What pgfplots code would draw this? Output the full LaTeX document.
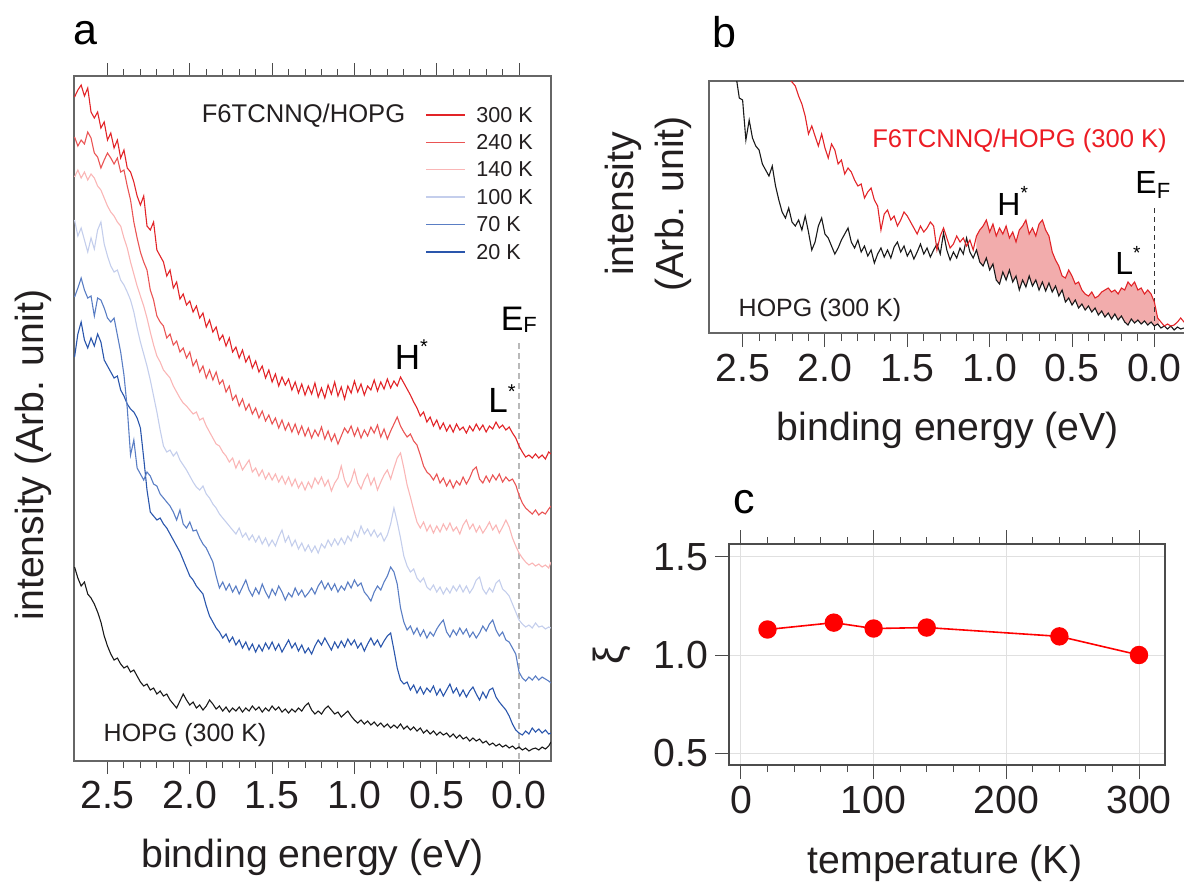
\documentclass[border=0pt]{standalone}
\usepackage{fontspec}
\setmainfont{Liberation Sans}
\usepackage{pgfplots}
\pgfplotsset{compat=1.18}
\usepackage{pgfplotstable}

\definecolor{c300}{RGB}{226,36,40}
\definecolor{c240}{RGB}{234,84,84}
\definecolor{c140}{RGB}{250,182,182}
\definecolor{c100}{RGB}{196,206,236}
\definecolor{c70}{RGB}{90,126,196}
\definecolor{c20}{RGB}{42,86,172}
\definecolor{hopg}{RGB}{25,25,25}
\definecolor{fillpink}{RGB}{242,172,172}
\definecolor{txt}{RGB}{35,31,32}
\definecolor{redtxt}{RGB}{236,28,36}

\newcommand{\fs}[2]{\fontsize{#1}{#2}\selectfont}

\pgfplotstableread{
E c300 c240 c140 c100 c70 c20 hopg
2.70 97 137 177 220 297 357 567
2.68 90 146 170 236 288 334 578
2.66 85 140 178 228 278 322 586
2.64 96 144 172 240 290 340 582
2.62 88 132 180 252 298 348 594
2.60 112 138 174 238 296 338 598
2.58 118 153 178 249 316 346 604
2.56 112 157 186 230 298 334 612
2.54 128 168 190 222 300 342 622
2.52 122 160 198 244 308 360 636
2.50 140 153 206 256 318 366 646
2.48 133 158 212 266 322 372 654
2.46 148 164 216 272 318 378 660
2.44 140 158 222 270 335 376 658
2.42 158 172 226 280 352 390 664
2.40 150 170 238 285 375 396 668
2.38 168 186 248 292 408 404 666
2.36 172 200 262 300 455 409 672
2.34 182 222 274 312 440 412 670
2.32 196 238 286 328 468 418 676
2.30 205 252 296 342 474 428 682
2.28 196 262 306 354 480 458 686
2.26 226 270 318 366 472 490 684
2.24 230 290 332 380 476 512 690
2.22 222 300 345 396 484 516 688
2.20 250 316 356 412 486 520 694
2.18 256 322 362 430 494 518 691
2.16 262 326 370 446 498 524 696
2.14 276 338 374 452 502 528 694
2.12 270 334 378 450 506 534 700
2.10 288 345 386 456 512 540 704
2.08 282 341 392 452 520 546 708
2.06 299 352 398 460 510 552 701
2.04 294 348 403 465 524 560 694
2.02 305 358 406 470 528 568 700
2.00 301 352 410 476 522 576 705
1.98 312 366 414 482 531 580 702
1.96 306 360 412 487 530 586 708
1.94 318 372 420 490 538 590 705
1.92 313 366 418 486 544 594 710
1.90 327 378 426 494 548 606 706
1.88 320 370 432 498 555 616 700
1.86 332 380 438 504 562 622 704
1.84 327 372 444 508 576 628 709
1.82 340 384 446 514 588 632 706
1.80 335 380 452 518 582 638 711
1.78 346 392 456 522 590 634 707
1.76 338 386 462 526 584 642 712
1.74 352 400 458 530 592 637 708
1.72 347 395 468 534 586 645 711
1.70 358 406 461 528 594 640 707
1.68 350 399 470 537 587 648 712
1.66 362 410 465 533 580 642 708
1.64 356 404 460 540 590 650 711
1.62 368 414 472 535 596 644 706
1.60 361 408 468 542 588 652 710
1.58 372 418 476 536 594 645 707
1.56 366 411 470 544 584 651 712
1.54 378 421 479 538 592 643 708
1.52 370 415 473 546 598 649 711
1.50 382 424 480 540 589 642 706
1.48 374 418 474 546 595 650 710
1.46 386 428 482 537 586 644 707
1.44 377 420 476 530 592 652 712
1.42 385 430 484 542 600 646 709
1.40 379 423 477 536 593 640 713
1.38 390 432 486 546 597 648 709
1.36 382 424 479 540 588 643 712
1.34 393 434 488 549 595 651 708
1.32 384 426 482 543 590 645 711
1.30 395 436 490 551 597 653 706
1.28 386 428 482 545 593 648 703
1.26 394 438 488 552 588 654 710
1.24 383 430 478 546 594 646 714
1.22 397 436 484 553 586 640 711
1.20 388 427 477 544 581 645 714
1.18 398 439 486 548 589 638 709
1.16 385 431 480 540 583 644 706
1.14 394 441 491 546 590 650 710
1.12 382 434 483 539 584 642 714
1.10 396 444 478 545 592 648 712
1.08 387 436 466 538 586 641 717
1.06 399 428 480 544 590 647 714
1.04 386 433 487 536 582 639 711
1.02 393 426 481 541 588 645 716
1.00 381 436 470 531 580 640 720
0.98 392 428 483 537 586 648 723
0.96 384 438 489 526 583 643 720
0.94 395 430 480 534 592 651 724
0.92 386 436 474 529 596 644 721
0.90 390 427 485 536 601 638 725
0.88 380 433 478 530 592 645 722
0.86 391 425 490 537 586 640 726
0.84 382 437 482 533 590 647 723
0.82 389 429 475 541 582 641 727
0.80 379 439 470 535 576 636 724
0.78 388 431 479 524 567 633 728
0.76 381 424 468 508 572 650 725
0.74 386 417 458 522 584 668 728
0.72 377 426 453 538 608 680 724
0.70 383 432 468 556 622 684 729
0.68 389 437 485 566 630 682 726
0.66 395 434 497 572 626 690 730
0.64 402 441 510 569 634 685 727
0.62 408 445 522 578 628 693 731
0.60 416 455 528 582 636 687 728
0.58 412 466 522 578 630 694 733
0.56 422 472 531 587 638 688 730
0.54 417 475 525 590 632 692 734
0.52 426 480 533 585 636 686 731
0.50 420 474 526 592 629 695 735
0.48 429 483 532 587 624 689 732
0.46 423 478 524 594 620 696 735
0.44 431 486 530 588 632 690 733
0.42 425 480 523 593 637 684 737
0.40 432 488 531 586 630 693 734
0.38 424 481 527 591 635 688 738
0.36 430 485 534 585 628 696 735
0.34 427 477 525 592 634 690 739
0.32 433 484 520 586 629 697 737
0.30 426 478 529 593 637 691 741
0.28 431 470 524 588 632 687 738
0.26 424 467 532 580 638 694 741
0.24 430 479 526 577 633 700 739
0.22 425 483 533 589 626 692 743
0.20 432 476 528 594 631 698 741
0.18 426 482 522 588 624 690 745
0.16 429 475 530 592 620 688 743
0.14 422 480 525 583 630 697 746
0.12 428 474 533 580 636 702 744
0.10 425 482 527 589 632 706 747
0.08 430 477 520 592 640 710 745
0.06 427 481 527 596 642 716 748
0.04 433 479 538 604 648 724 746
0.02 438 485 546 612 654 730 749
0.00 446 495 553 620 672 733 747
-0.02 452 503 558 624 678 735 750
-0.04 457 508 562 627 681 731 748
-0.06 455 511 565 625 677 734 751
-0.08 458 514 563 628 680 728 749
-0.10 454 510 566 623 676 732 748
-0.12 458 515 564 627 680 729 750
-0.14 455 512 567 626 677 733 747
-0.16 459 514 565 629 679 730 749
-0.18 452 509 568 627 681 734 746
-0.194 454 506 562 628 683 733 742
}\dataA

\pgfplotstableread{
E red hopg
2.56 10 60
2.54 14 76
2.52 18 98
2.50 20 100
2.48 24 140
2.46 28 120
2.44 32 138
2.42 36 146
2.40 40 150
2.38 44 164
2.36 48 170
2.34 52 176
2.32 56 166
2.30 60 186
2.28 64 200
2.26 70 212
2.24 74 218
2.22 78 208
2.20 82 222
2.18 86 226
2.16 96 220
2.14 104 230
2.12 116 216
2.10 134 232
2.08 126 250
2.06 136 242
2.04 146 226
2.02 134 218
2.00 148 234
1.98 158 238
1.96 144 246
1.94 150 254
1.92 164 248
1.90 160 240
1.88 174 234
1.86 168 228
1.84 172 242
1.82 180 248
1.80 186 240
1.78 184 252
1.76 198 246
1.74 192 256
1.72 188 250
1.70 200 263
1.68 206 254
1.66 230 248
1.64 214 257
1.62 210 250
1.60 220 258
1.58 216 247
1.56 226 242
1.54 220 252
1.52 212 246
1.50 216 256
1.48 222 250
1.46 228 259
1.44 234 252
1.42 226 244
1.40 232 254
1.38 228 248
1.36 222 257
1.34 226 250
1.32 250 244
1.30 236 254
1.28 228 233
1.26 238 250
1.24 248 260
1.22 244 252
1.20 236 258
1.18 242 248
1.16 238 254
1.14 246 238
1.12 240 252
1.10 250 258
1.08 236 250
1.06 230 262
1.04 226 266
1.02 220 258
1.00 232 270
0.98 224 264
0.96 236 280
0.94 228 284
0.92 234 272
0.90 226 280
0.88 238 270
0.86 232 282
0.84 242 276
0.82 230 290
0.80 226 280
0.78 220 287
0.76 234 276
0.74 228 286
0.72 236 280
0.70 224 290
0.68 220 282
0.66 230 291
0.64 236 283
0.62 252 292
0.60 260 286
0.58 266 296
0.56 276 290
0.54 278 302
0.52 270 298
0.50 276 305
0.48 284 300
0.46 282 308
0.44 290 304
0.42 294 310
0.40 296 306
0.38 292 312
0.36 298 308
0.34 296 315
0.32 292 311
0.30 290 317
0.28 288 313
0.26 292 319
0.24 290 314
0.22 294 320
0.20 288 316
0.18 290 322
0.16 282 325
0.14 286 319
0.12 282 323
0.10 290 320
0.08 288 324
0.06 294 321
0.04 290 325
0.02 294 322
0.00 302 326
-0.02 318 324
-0.04 322 328
-0.06 326 326
-0.08 324 329
-0.10 326 326
-0.12 325 330
-0.14 322 327
-0.16 318 329
-0.18 322 328
-0.194 324 330
}\dataB

% shaded area between F6TCNNQ/HOPG and HOPG (red edge, then HOPG edge back)
\pgfplotstableread{
E y
1.08 236
1.06 230
1.04 226
1.02 220
1.00 232
0.98 224
0.96 236
0.94 228
0.92 234
0.90 226
0.88 238
0.86 232
0.84 242
0.82 230
0.80 226
0.78 220
0.76 234
0.74 228
0.72 236
0.70 224
0.68 220
0.66 230
0.64 236
0.62 252
0.60 260
0.58 266
0.56 276
0.54 278
0.52 270
0.50 276
0.48 284
0.46 282
0.44 290
0.42 294
0.40 296
0.38 292
0.36 298
0.34 296
0.32 292
0.30 290
0.28 288
0.26 292
0.24 290
0.22 294
0.20 288
0.18 290
0.16 282
0.14 286
0.12 282
0.10 290
0.08 288
0.06 294
0.04 290
0.02 294
0.00 302
-0.02 318
-0.03 322
-0.03 326
-0.02 324
0.00 326
0.02 322
0.04 325
0.06 321
0.08 324
0.10 320
0.12 323
0.14 319
0.16 325
0.18 322
0.20 316
0.22 320
0.24 314
0.26 319
0.28 313
0.30 317
0.32 311
0.34 315
0.36 308
0.38 312
0.40 306
0.42 310
0.44 304
0.46 308
0.48 300
0.50 305
0.52 298
0.54 302
0.56 290
0.58 296
0.60 286
0.62 292
0.64 283
0.66 291
0.68 282
0.70 290
0.72 280
0.74 286
0.76 276
0.78 287
0.80 280
0.82 290
0.84 276
0.86 282
0.88 270
0.90 280
0.92 272
0.94 284
0.96 280
0.98 264
1.00 270
1.02 258
1.04 266
1.06 262
1.08 250
}\dataFill

\pgfplotstableread{
T xi
20 1.13
70 1.165
100 1.135
140 1.14
240 1.095
300 1.0
}\dataC

\pgfplotsset{
  myax/.style={
    scale only axis, anchor=south west,
    axis line style={draw=black!60, line width=0.6pt},
    tick style={draw=black!70, line width=0.5pt},
    tick align=outside,
    major tick length=6.5pt, minor tick length=3.5pt,
    tick label style={font=\fs{19.6}{23}, text=txt},
    /pgf/number format/assume math mode=true,
  },
  spec/.style={line width=0.55pt},
}

\begin{document}
\begin{tikzpicture}
\useasboundingbox (0,0) rectangle (592pt,-442.5pt);

% ---------------- panel a ----------------
\begin{axis}[myax,
  at={(37pt,-380.5pt)},
  width=238.5pt, height=342.5pt,
  xmin=-0.194, xmax=2.7035, ymin=76, ymax=761,
  x dir=reverse, y dir=reverse,
  xtick={0,0.5,1,1.5,2,2.5}, minor x tick num=4,
  ytick=\empty,
  xticklabel style={/pgf/number format/.cd, fixed, fixed zerofill, precision=1},
]
\addplot[gray!55, line width=0.6pt, dash pattern=on 3pt off 2pt] coordinates {(0,343) (0,761)};
\addplot[spec, hopg] table[x=E, y=hopg] {\dataA};
\addplot[spec, c20] table[x=E, y=c20] {\dataA};
\addplot[spec, c70] table[x=E, y=c70] {\dataA};
\addplot[spec, c100] table[x=E, y=c100] {\dataA};
\addplot[spec, c140] table[x=E, y=c140] {\dataA};
\addplot[spec, c240] table[x=E, y=c240] {\dataA};
\addplot[spec, c300] table[x=E, y=c300] {\dataA};
\end{axis}

% ---------------- panel b ----------------
\begin{axis}[myax,
  at={(354.5pt,-166.5pt)},
  width=239.15pt, height=126pt,
  xmin=-0.2, xmax=2.704, ymin=81, ymax=333,
  x dir=reverse, y dir=reverse,
  xtick={0,0.5,1,1.5,2,2.5}, minor x tick num=4,
  xtick pos=left,
  major tick length=7pt, minor tick length=4pt,
  ytick=\empty,
  xticklabel style={/pgf/number format/.cd, fixed, fixed zerofill, precision=1},
]
\addplot[fill=fillpink, draw=none] table[x=E, y=y] {\dataFill};
\addplot[black!80, line width=0.6pt, dash pattern=on 2.5pt off 2pt] coordinates {(0,208) (0,333)};
\addplot[spec, hopg] table[x=E, y=hopg] {\dataB};
\addplot[spec, c300] table[x=E, y=red] {\dataB};
\end{axis}

% ---------------- panel c ----------------
\begin{axis}[myax,
  at={(364.5pt,-382.5pt)},
  width=218pt, height=110.5pt,
  xmin=-9, xmax=319.6, ymin=0.439, ymax=1.566,
  axis line style={draw=black!70, line width=0.6pt},
  xtick={0,100,200,300}, minor x tick num=4,
  ytick={0.5,1.0,1.5},
  ytick pos=left,
  major tick length=7pt,
  grid=major, grid style={draw=black!12, line width=0.5pt},
  yticklabel style={/pgf/number format/.cd, fixed, fixed zerofill, precision=1},
]
\addplot[red, line width=0.8pt, mark=*, mark size=4.2pt, mark options={fill=red, draw=red}] table[x=T, y=xi] {\dataC};
\end{axis}

% ---------------- text ----------------
\begin{scope}[x=0.5pt, y=-0.5pt]
\node[font=\fs{21.5}{26}, text=black] at (85,33) {a};
\node[font=\fs{21.5}{26}, text=black] at (724,32) {b};
\node[font=\fs{21.5}{26}, text=black] at (744,502) {c};

% axis labels
\node[rotate=90, font=\fs{19.6}{23}, text=txt] at (33,455) {intensity (Arb. unit)};
\node[font=\fs{19.6}{23}, text=txt] at (312.5,857) {binding energy (eV)};
\node[rotate=90, align=center, font=\fs{19.6}{25}, text=txt] at (648,204) {intensity\\(Arb. unit)};
\node[font=\fs{19.6}{23}, text=txt] at (948,430) {binding energy (eV)};
\node[rotate=90, font=\fs{21}{25}, text=txt] at (612,655) {ξ};
\node[font=\fs{19.6}{23}, text=txt] at (945,863) {temperature (K)};

% panel a legend
\node[font=\fs{12.8}{15}, text=txt] at (303.5,116) {F6TCNNQ/HOPG};
\draw[c300, line width=0.8pt] (426,115) -- (465,115);
\draw[c240, line width=0.8pt] (426,142.3) -- (465,142.3);
\draw[c140, line width=0.8pt] (426,169.3) -- (465,169.3);
\draw[c100, line width=0.8pt] (426,196.7) -- (465,196.7);
\draw[c70, line width=0.8pt] (426,224.3) -- (465,224.3);
\draw[c20, line width=0.8pt] (426,251.7) -- (465,251.7);
\begin{scope}[every node/.style={anchor=west, inner sep=0pt, font=\fs{10.8}{13}, text=txt}]
\node at (476,115) {300 K};
\node at (476,142.3) {240 K};
\node at (476,169.3) {140 K};
\node at (476,196.7) {100 K};
\node at (476,224.3) {70 K};
\node at (476,251.7) {20 K};
\end{scope}

% panel a annotations
\begin{scope}[every node/.style={anchor=base west, inner sep=0pt, text=black}]
\node[font=\fs{17.5}{20}] at (394.5,369.5) {H\raisebox{7.8pt}{\fs{10}{12}*}};
\node[font=\fs{17.5}{20}] at (488,412.5) {L\raisebox{7pt}{\fs{10}{12}*}};
\node[font=\fs{17}{20}] at (500.4,330.3) {E\raisebox{-1pt}{\fs{11}{13}F}};
% panel b annotations
\node[font=\fs{16}{19}] at (997,215.5) {H\raisebox{7.8pt}{\fs{9.5}{11}*}};
\node[font=\fs{16}{19}] at (1115,274) {L\raisebox{7.5pt}{\fs{9.5}{11}*}};
\node[font=\fs{16}{19}] at (1135,193.5) {E\raisebox{-2.5pt}{\fs{11}{13}F}};
\end{scope}
\node[font=\fs{12.5}{15}, text=txt] at (185,735) {HOPG (300 K)};
\node[font=\fs{12.8}{15}, text=redtxt] at (1019.5,141) {F6TCNNQ/HOPG (300 K)};
\node[font=\fs{12.5}{15}, text=txt] at (820,310) {HOPG (300 K)};
\end{scope}
\end{tikzpicture}
\end{document}
